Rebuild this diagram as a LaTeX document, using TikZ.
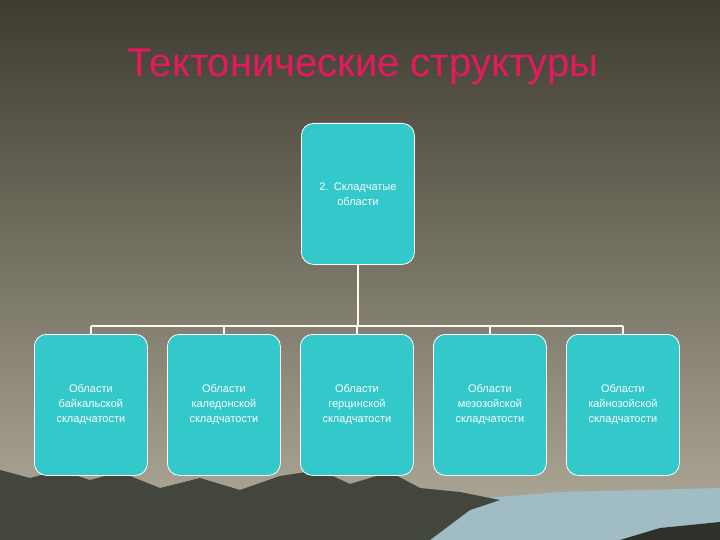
\documentclass[tikz,border=0pt]{standalone}
\usepackage{fontspec}
\setmainfont{Liberation Sans}
\begin{document}
\begin{tikzpicture}[x=1pt,y=-1pt,
  box/.style={draw=white,line width=0.8pt,fill=boxc,rounded corners=12pt,minimum width=113pt,minimum height=141pt,anchor=north west,text=white,font=\fontsize{11}{15}\selectfont,align=center,text width=108pt,inner sep=0pt},
  conn/.style={draw=linec,line width=2pt}]
\definecolor{boxc}{RGB}{51,200,202}
\definecolor{linec}{RGB}{255,250,235}
\definecolor{bgtop}{RGB}{62,60,48}
\definecolor{bgbot}{RGB}{178,172,155}
\definecolor{mtn}{RGB}{66,70,60}
\definecolor{water}{RGB}{120,160,170}
\useasboundingbox (0,0) rectangle (720,540);
\shade[top color=bgtop,bottom color=bgbot] (0,0) rectangle (720,540);
\fill[water!70!white] (420,540) -- (460,500) -- (560,492) -- (720,488) -- (720,540) -- cycle;
\fill[mtn] (0,540) -- (0,470) -- (30,478) -- (60,470) -- (90,480) -- (120,472) -- (160,488) -- (200,478) -- (240,490) -- (280,476) -- (320,470) -- (350,484) -- (390,472) -- (420,488) -- (460,492) -- (500,500) -- (470,510) -- (430,540) -- cycle;
\fill[mtn!70!black] (620,540) -- (660,528) -- (720,522) -- (720,540) -- cycle;
\node[text={rgb,255:red,230;green,25;blue,95},font=\fontsize{40}{46}\selectfont] (title) at (363,67) {Тектонические структуры};
\node[box] (top) at (301,123) {2. Складчатые\\области};
\node[box] (b1) at (34,334) {Области\\байкальской\\складчатости};
\node[box] (b2) at (167,334) {Области\\каледонской\\складчатости};
\node[box] (b3) at (300,334) {Области\\герцинской\\складчатости};
\node[box] (b4) at (433,334) {Области\\мезозойской\\складчатости};
\node[box] (b5) at (566,334) {Области\\кайнозойской\\складчатости};
\coordinate (hy) at (0,326);
\draw[conn] (top.south) -- (top.south |- hy);
\draw[conn] (b1.north |- hy) -- (b5.north |- hy);
\foreach \b in {b1,b2,b3,b4,b5} \draw[conn] (\b.north |- hy) -- (\b.north);
\end{tikzpicture}
\end{document}
